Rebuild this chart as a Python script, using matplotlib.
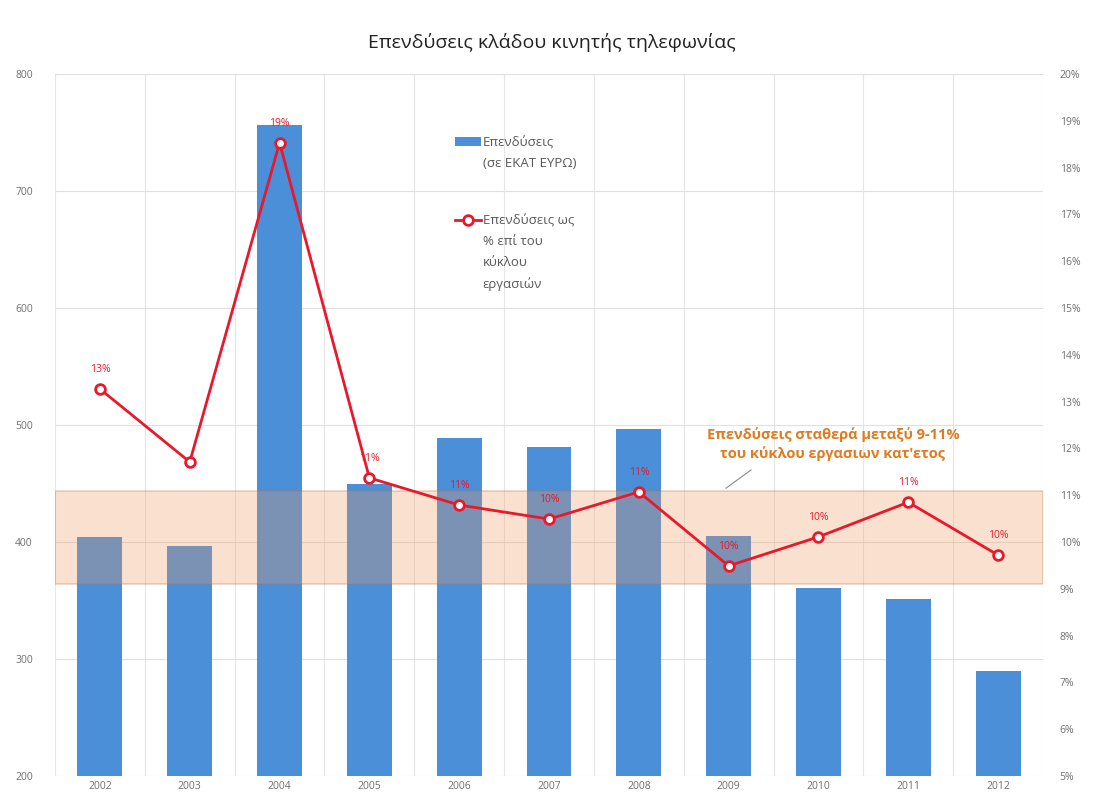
import matplotlib
matplotlib.use("Agg")
import matplotlib.pyplot as plt
import numpy as np

plt.rcParams['font.family'] = ['Open Sans', 'DejaVu Sans']

years = ['2002', '2003', '2004', '2005', '2006', '2007', '2008', '2009', '2010', '2011', '2012']
investments = [404, 397, 756, 450, 489, 481, 497, 405, 361, 351, 290]
pct_revenue = [13.27, 11.71, 18.53, 11.37, 10.79, 10.49, 11.07, 9.49, 10.11, 10.85, 9.72]
pct_labels = ['13%', '', '19%', '11%', '11%', '10%', '11%', '10%', '10%', '11%', '10%']
band_low, band_high = 9.1, 11.1

left_ticks = [200, 300, 400, 500, 600, 700, 800]
right_ticks = list(range(5, 21))

bar_legend = ['Επενδύσεις', '(σε ΕΚΑΤ ΕΥΡΩ)']
line_legend = ['Επενδύσεις ως', '% επί του', 'κύκλου', 'εργασιών']

W, H = 1103, 807
fig = plt.figure(figsize=(W / 100, H / 100), dpi=100)
ax = fig.add_axes([0.0499, 0.0384, 0.8957, 0.8699])
ax2 = ax.twinx()

x = np.arange(len(years))
ax.bar(x, investments, width=0.5, color='#4a8fd8', zorder=2, label=bar_legend[0])
ax.set_ylim(200, 800)
ax.set_xlim(-0.5, len(years) - 0.5)
ax.set_yticks(left_ticks)
ax.set_yticklabels([str(t) for t in left_ticks])
ax.set_xticks(x)
ax.set_xticklabels(years)
ax.grid(axis='y', color='#e0e0e0', lw=0.8, zorder=0)
for b in np.arange(-0.5, len(years), 1.0):
    ax.axvline(b, color='#e6e6e6', lw=0.8, zorder=0)
ax.set_axisbelow(True)

ax2.set_ylim(5, 20)
ax2.set_yticks(right_ticks)
ax2.set_yticklabels([f'{t}%' for t in right_ticks])

# band
ax2.axhspan(band_low, band_high, xmin=0, xmax=1, facecolor='#ee9a62', alpha=0.3,
            edgecolor='#c0703a', lw=1.2, zorder=3)

ax2.plot(x, pct_revenue, color='#e8192c', lw=2, marker='o', ms=7,
         mfc='white', mec='#e8192c', mew=2, zorder=5, label=line_legend[0])
for xi, v, lab in zip(x, pct_revenue, pct_labels):
    if lab:
        ax2.annotate(lab, (xi, v), xytext=(0, 10), textcoords='offset points',
                     ha='center', va='bottom', fontsize=7.5, color='#e8192c', zorder=6)

ax2.text(8.16, 12.1, 'Επενδύσεις σταθερά μεταξύ 9-11%\nτου κύκλου εργασιων κατ\'ετος',
         fontsize=10.5, color='#e07b20', fontweight='bold', ha='center', va='center',
         linespacing=1.35, zorder=6)
ax2.plot([6.97, 7.25], [11.15, 11.54], color='#8a8a8a', lw=0.8, zorder=6)

for a in (ax, ax2):
    for s in a.spines.values():
        s.set_visible(False)
    a.tick_params(length=0, labelsize=7.5, labelcolor='#707070')
ax.tick_params(axis='y', pad=16)
ax2.tick_params(axis='y', pad=12)

h1, l1 = ax.get_legend_handles_labels()
h2, l2 = ax2.get_legend_handles_labels()
leg = ax2.legend(h1 + h2, l1 + l2, loc='upper left',
                 bbox_to_anchor=(455 / W, 1 - 136 / H), bbox_transform=fig.transFigure,
                 frameon=False, fontsize=9.5, labelcolor='#595959',
                 handlelength=2.0, handletextpad=0.1, labelspacing=(225 - 147) / 13.2 - 1.0,
                 borderpad=0, borderaxespad=0)
leg.set_zorder(7)

fig.text(0.5, 1 - 42 / H, 'Επενδύσεις κλάδου κινητής τηλεφωνίας', ha='center', va='center',
         fontsize=14, color='#222222')

# continuation lines of the legend labels
fig.canvas.draw()
inv = fig.transFigure.inverted()
for txt, lines in zip(leg.get_texts(), [bar_legend, line_legend]):
    bb = txt.get_window_extent()
    x0, y0 = inv.transform((bb.x0, (bb.y0 + bb.y1) / 2))
    for i, line in enumerate(lines[1:], start=1):
        fig.text(x0, y0 - i * 21 / H, line, fontsize=9.5, color='#595959',
                 ha='left', va='center', zorder=7)

fig.savefig('out.png', dpi=100)
